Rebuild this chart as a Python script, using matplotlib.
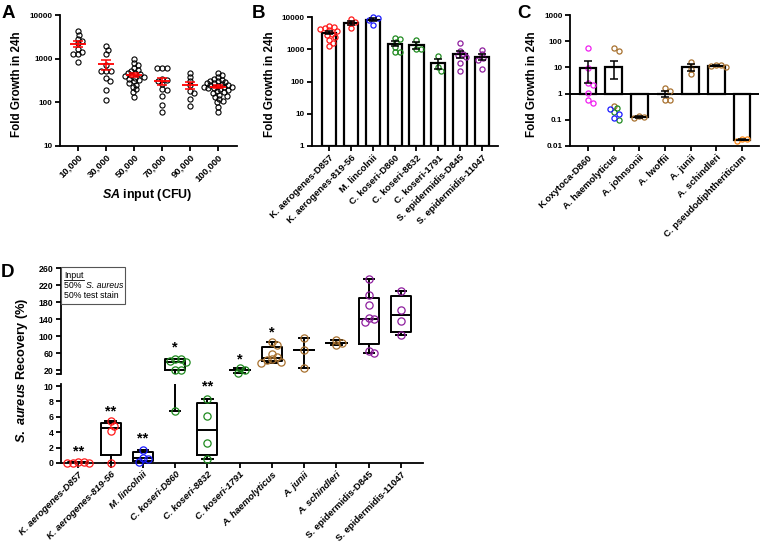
import numpy as np
import matplotlib
matplotlib.use('Agg')
import matplotlib.pyplot as plt
from matplotlib.ticker import NullLocator, FuncFormatter, FixedLocator
from matplotlib.patches import Rectangle
from matplotlib.lines import Line2D

plt.rcParams['font.family'] = ['Liberation Sans', 'DejaVu Sans']
plt.rcParams['font.weight'] = 'bold'
plt.rcParams['mathtext.fontset'] = 'custom'
plt.rcParams['mathtext.it'] = 'Liberation Sans:italic:bold'
plt.rcParams['mathtext.rm'] = 'Liberation Sans:bold'

RED, BLUE, GREEN = '#ff1a1a', '#1a1aff', '#1f8a1f'
PURPLE, BROWN, MAGENTA, ORANGE = '#8e1f9e', '#a8712f', '#f01ef0', '#ff8c1a'

# ---------------- data: panel A (fold growth vs SA input) ----------------
a_inputs = ['10,000', '30,000', '50,000', '70,000', '90,000', '100,000']
a_10k = [4300, 3500, 2800, 2500, 2250, 1650, 1450, 1300, 1250, 850]
a_30k = [1950, 1600, 1300, 700, 520, 520, 530, 360, 310, 190, 115]
a_50k = [1000, 780, 700, 620, 560, 520, 480, 460, 440, 420, 400, 380, 370,
         350, 330, 300, 280, 250, 230, 200, 170, 130]
a_70k = [610, 600, 610, 350, 330, 300, 260, 200, 190, 140, 88, 60]
a_90k = [480, 385, 310, 250, 180, 165, 117, 83]
a_100k = [470, 420, 380, 350, 330, 310, 300, 290, 280, 270, 260, 250, 245,
          240, 230, 225, 220, 215, 210, 200, 190, 180, 170, 160, 150, 140,
          130, 120, 110, 100, 80, 60]

# ---------------- data: panel B ----------------
b_strains = ['K. aerogenes-D857', 'K. aerogenes-819-56', 'M. lincolnii',
             'C. koseri-D860', 'C. koseri-8832', 'C. koseri-1791',
             'S. epidermidis-D845', 'S. epidermidis-11047']
b_d857 = [5400, 4800, 4500, 4200, 3900, 3600, 3000, 2700, 2400, 2000, 1600, 1300]
b_819 = [8700, 7000, 6500, 4500]
b_linc = [9800, 9200, 8000, 5700]
b_d860 = [2300, 2100, 1700, 1200, 850, 840]
b_8832 = [2000, 1050, 1000]
b_1791 = [620, 280, 210]
b_d845 = [1600, 900, 700, 650, 560, 370, 210]
b_11047 = [950, 700, 520, 470, 250]
b_colors = [RED, RED, BLUE, GREEN, GREEN, GREEN, PURPLE, PURPLE]

# ---------------- data: panel C ----------------
c_strains = ['K.oxytoca-D860', 'A. haemolyticus', 'A. johnsonii', 'A. lwoffii',
             'A. junii', 'A. schindleri', 'C. pseudodiphtheriticum']
c_oxy = [53, 9.3, 2.6, 2.1, 1.1, 0.58, 0.45]
c_haem = [53, 42, 0.35, 0.27, 0.19, 0.10, 0.26, 0.16, 0.12]
c_haem_colors = [BROWN, BROWN, BROWN, GREEN, GREEN, GREEN, BLUE, BLUE, BLUE]
c_john = [0.12, 0.14, 0.125]
c_lwof = [1.6, 1.25, 0.55, 0.55]
c_junii = [16, 9, 5.5]
c_schin = [12.5, 11, 12, 10.5]
c_pseudo = [0.016, 0.019, 0.018]
c_colors = [MAGENTA, None, BROWN, BROWN, BROWN, BROWN, ORANGE]

# ---------------- data: panel D (S. aureus recovery, %) ----------------
d_strains = ['K. aerogenes-D857', 'K. aerogenes-819-56', 'M. lincolnii',
             'C. koseri-D860', 'C. koseri-8832', 'C. koseri-1791',
             'A. haemolyticus', 'A. junii', 'A. schindleri',
             'S. epidermidis-D845', 'S. epidermidis-11047']
d_d857 = [0.1, 0.07, 0.05, 0.04, 0.02]
d_819 = [5.4, 4.8, 4.2, 0.05]
d_linc = [1.7, 0.7, 0.5, 0.15]
d_d860 = [46, 45, 42, 40, 21, 19, 6.8]
d_8832 = [8.3, 6.1, 2.6, 0.5]
d_1791 = [24.5, 21, 13]
d_haem = [85, 78, 58, 50, 45, 43, 40, 37]
d_junii = [95, 68, 25]
d_schin = [90, 84, 78]
d_d845 = [235, 196, 174, 142, 140, 133, 64, 60]
d_11047 = [205, 162, 135, 102]
d_colors = [RED, RED, BLUE, GREEN, GREEN, GREEN, BROWN, BROWN, BROWN, PURPLE, PURPLE]
d_stars = ['**', '**', '**', '*', '**', '*', '*', '', '', '', '']
d_star_y = [2.1, 7.4, 3.8, 86, 10.6, 56, 121, 0, 0, 0, 0]

W, H = 760, 547
fig = plt.figure(figsize=(W / 100, H / 100), dpi=100)


def rect(x0, y0, x1, y1):
    # pixel box (top-left origin) -> figure fraction rect
    return [x0 / W, 1 - y1 / H, (x1 - x0) / W, (y1 - y0) / H]


def style(ax, ysize=5.8):
    for s in ['top', 'right']:
        ax.spines[s].set_visible(False)
    for s in ['left', 'bottom']:
        ax.spines[s].set_linewidth(1.3)
    ax.tick_params(width=1.3, length=3.5, labelsize=ysize, pad=2)
    ax.tick_params(axis='x', labelsize=6.8, pad=1.5)


def swarm_x(ax, xc, vals, diam, gap=1.0):
    vals = np.asarray(vals, dtype=float)
    pix = ax.transData.transform(np.column_stack([np.full(len(vals), xc), vals]))
    x0 = pix[0, 0]
    step = diam * 0.25
    offsets = [0.0]
    for k in range(1, 120):
        offsets += [k * step, -k * step]
    placed = []
    xs = np.empty(len(vals))
    for i in np.argsort(-vals, kind='stable'):
        y = pix[i, 1]
        for off in offsets:
            if all((x0 + off - px) ** 2 + (y - py) ** 2 >= (gap * diam) ** 2
                   for px, py in placed):
                break
        placed.append((x0 + off, y))
        xs[i] = x0 + off
    inv = ax.transData.inverted()
    return inv.transform(np.column_stack([xs, pix[:, 1]]))[:, 0]


def sem(v):
    return np.std(v, ddof=1) / np.sqrt(len(v))


def rot_labels(ax, labels):
    ax.set_xticks(np.arange(len(labels)))
    ax.set_xticklabels(labels, rotation=45, ha='right', rotation_mode='anchor')


fmt_g = FuncFormatter(lambda v, p: '%g' % v)

# ================= A =================
axA = fig.add_axes(rect(60, 15, 237, 146))
axA.set_yscale('log')
axA.set_ylim(10, 10000)
axA.set_xlim(-0.64, 5.68)
axA.yaxis.set_minor_locator(NullLocator())
axA.yaxis.set_major_formatter(fmt_g)
style(axA)
rot_labels(axA, a_inputs)
for i, vals in enumerate([a_10k, a_30k, a_50k, a_70k, a_90k, a_100k]):
    xs = swarm_x(axA, i, vals, 5.0, 0.8)
    axA.plot(xs, vals, 'o', mfc='none', mec='black', ms=3.7, mew=0.8, clip_on=False)
    m = np.mean(vals)
    axA.hlines(m, i - 0.3, i + 0.3, color='red', lw=1.3, zorder=4)
    axA.errorbar(i, m, yerr=sem(vals), fmt='none', ecolor='red', elinewidth=1.1,
                 capsize=3.4, capthick=1.1, zorder=4)
fig.text(147 / W, 1 - 195 / H, r'$\it{SA}$ input (CFU)', fontsize=9,
         ha='center', va='center')
fig.text(17 / W, 1 - 84 / H, 'Fold Growth in 24h', fontsize=8.4, rotation=90,
         ha='center', va='center')

# ================= B =================
axB = fig.add_axes(rect(312, 17, 498, 146))
axB.set_yscale('log')
axB.set_ylim(1, 10000)
axB.set_xlim(-0.78, 7.73)
axB.yaxis.set_minor_locator(NullLocator())
axB.yaxis.set_major_formatter(fmt_g)
style(axB)
rot_labels(axB, b_strains)
for i, (vals, col) in enumerate(zip([b_d857, b_819, b_linc, b_d860, b_8832,
                                      b_1791, b_d845, b_11047], b_colors)):
    m = np.mean(vals)
    axB.bar(i, m - 1, bottom=1, width=0.65, facecolor='white', edgecolor='black',
            lw=1.6, zorder=2)
    xs = swarm_x(axB, i, vals, 5.0, 0.85)
    axB.plot(xs, vals, 'o', mfc='none', mec=col, ms=3.7, mew=0.9, zorder=3,
             clip_on=False)
    axB.hlines(m, i - 0.22, i + 0.22, color='black', lw=1.1, zorder=4)
    axB.errorbar(i, m, yerr=sem(vals), fmt='none', ecolor='black', elinewidth=1.1,
                 capsize=2.8, capthick=1.1, zorder=4)
fig.text(270 / W, 1 - 84 / H, 'Fold Growth in 24h', fontsize=8.4, rotation=90,
         ha='center', va='center')

# ================= C =================
axC = fig.add_axes(rect(570, 15, 759, 146))
axC.set_yscale('log')
axC.set_ylim(0.01, 1000)
axC.set_xlim(-0.70, 6.66)
axC.yaxis.set_minor_locator(NullLocator())
axC.yaxis.set_major_formatter(fmt_g)
style(axC)
rot_labels(axC, c_strains)
axC.axhline(1, color='black', lw=1.4, zorder=2)
c_groups = [c_oxy, c_haem, c_john, c_lwof, c_junii, c_schin, c_pseudo]
for i, vals in enumerate(c_groups):
    m = np.mean(vals)
    axC.bar(i, m - 1, bottom=1, width=0.65, facecolor='white', edgecolor='black',
            lw=1.6, zorder=2)
    cols = c_haem_colors if c_colors[i] is None else [c_colors[i]] * len(vals)
    xs = swarm_x(axC, i, vals, 5.0, 0.95)
    for x, v, col in zip(xs, vals, cols):
        axC.plot(x, v, 'o', mfc='none', mec=col, ms=3.7, mew=0.9, zorder=3,
                 clip_on=False)
    axC.hlines(m, i - 0.22, i + 0.22, color='black', lw=1.1, zorder=4)
    axC.errorbar(i, m, yerr=sem(vals), fmt='none', ecolor='black', elinewidth=1.1,
                 capsize=2.8, capthick=1.1, zorder=4)
fig.text(532 / W, 1 - 84 / H, 'Fold Growth in 24h', fontsize=8.4, rotation=90,
         ha='center', va='center')

# ================= D (broken axis) =================
axDu = fig.add_axes(rect(61, 268, 423, 374))
axDl = fig.add_axes(rect(61, 384, 423, 463))
UP_LO = 10.6
axDu.set_ylim(UP_LO, 260)
axDl.set_ylim(0, 10.26)
for ax in (axDu, axDl):
    ax.set_xlim(-0.535, 10.68)
    style(ax, ysize=6.3)
axDu.spines['bottom'].set_visible(False)
axDu.set_xticks([])
axDu.set_yticks(np.arange(20, 261, 40))
axDu.yaxis.set_minor_locator(FixedLocator([UP_LO]))
axDu.tick_params(axis='y', which='minor', length=3.5, width=1.3)
axDl.set_yticks(np.arange(0, 11, 2))
rot_labels(axDl, d_strains)
for k, lbl in enumerate(axDl.get_xticklabels()):
    if k < 9:
        lbl.set_style('italic')

d_groups = [d_d857, d_819, d_linc, d_d860, d_8832, d_1791, d_haem, d_junii,
            d_schin, d_d845, d_11047]
stats = []
for vals in d_groups:
    v = np.sort(np.asarray(vals, dtype=float))
    med = np.median(v)
    if len(v) > 3:
        q1 = np.percentile(v, 25, method='weibull')
        q3 = np.percentile(v, 75, method='weibull')
    else:
        # three values: Prism draws only median + range
        q1 = q3 = med
    stats.append(dict(med=med, q1=q1, q3=q3, whislo=v[0], whishi=v[-1], fliers=[]))
lp = dict(color='black', lw=1.4)
for ax in (axDu, axDl):
    ax.bxp(stats, positions=np.arange(len(stats)), widths=0.62, capwidths=0.32,
           showfliers=False, boxprops=lp, whiskerprops=lp, capprops=lp,
           medianprops=lp, manage_ticks=False, zorder=2)

for i, (vals, col) in enumerate(zip(d_groups, d_colors)):
    vals = np.asarray(vals, dtype=float)
    hi = vals[vals > UP_LO]
    lo = vals[vals <= UP_LO]
    for ax, sub in ((axDu, hi), (axDl, lo)):
        if len(sub):
            xs = swarm_x(ax, i, sub, 7.2, 0.7)
            ax.plot(xs, sub, 'o', mfc='none', mec=col, ms=5.2, mew=0.9,
                    zorder=3, clip_on=False)
    if d_stars[i]:
        ax = axDu if d_star_y[i] > 11 else axDl
        ax.annotate(d_stars[i], (i, d_star_y[i]), xytext=(0, -6.5),
                    textcoords='offset points', ha='center', va='baseline',
                    fontsize=10.5, annotation_clip=False)

fig.text(22 / W, 1 - 370 / H, r'$\it{S.\ aureus}$ Recovery (%)', fontsize=9.2,
         rotation=90, ha='center', va='center')

# input legend box
axDu.add_patch(Rectangle((0.0, (374 - 304) / 106), 0.176, (304 - 267) / 106,
                         transform=axDu.transAxes, fill=False, ec='#555555',
                         lw=0.8, clip_on=False, zorder=5))
leg_kw = dict(transform=axDu.transAxes, fontsize=6.3, fontweight='normal',
              va='center')
t_in = axDu.text(0.009, (374 - 276) / 106, 'Input', **leg_kw)
t_50 = axDu.text(0.009, (374 - 286) / 106, '50% ', **leg_kw)
axDu.text(0.009, (374 - 296) / 106, '50% test stain', **leg_kw)

# panel letters
for x, y, s in [(2, 18, 'A'), (252, 18, 'B'), (517, 18, 'C'), (1, 277, 'D')]:
    fig.text(x / W, 1 - y / H, s, fontsize=13.5, fontweight='bold', va='baseline')

# underline "Input", italic species after "50% "
fig.canvas.draw()
bb = t_in.get_window_extent()
fig.add_artist(Line2D([bb.x0 / W, bb.x1 / W], [(bb.y0 + 1) / H, (bb.y0 + 1) / H],
                      transform=fig.transFigure, color='black', lw=0.6))
bb50 = t_50.get_window_extent()
x_it = axDu.transAxes.inverted().transform((bb50.x1 + 1.5, 0))[0]
axDu.text(x_it, (374 - 286) / 106, 'S. aureus', style='italic', **leg_kw)

fig.savefig('out.png', dpi=100)
